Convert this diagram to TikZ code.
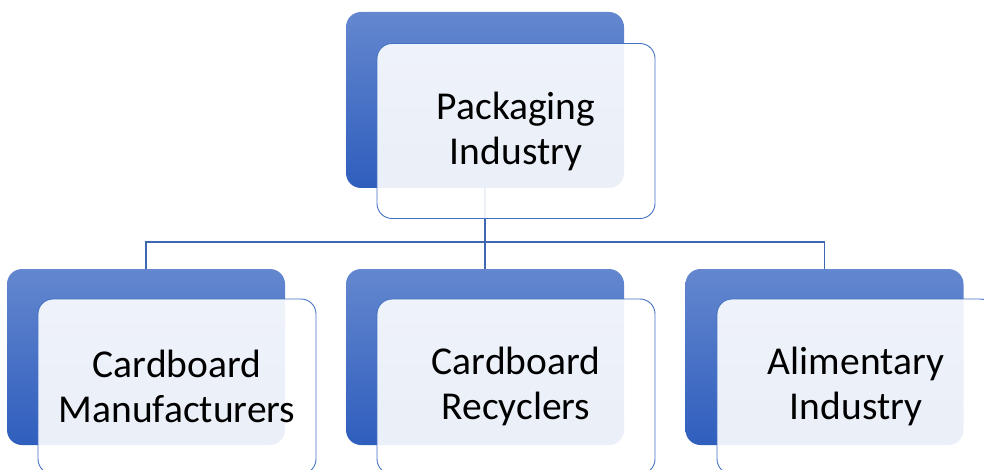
\documentclass[tikz,border=0pt]{standalone}
\usepackage{fontspec}
\setmainfont{Carlito}
\definecolor{bluetop}{HTML}{6487CF}
\definecolor{bluebot}{HTML}{2F5EBD}
\definecolor{edgeblue}{HTML}{4472C4}
\definecolor{lineblue}{HTML}{3F66B0}
\tikzset{
  bluebox/.style={rounded corners=15pt, top color=bluetop, bottom color=bluebot, draw=none,
    minimum width=278pt, minimum height=176pt, inner sep=0pt},
  lightbox/.style={rounded corners=15pt, fill=white, fill opacity=0.9, text opacity=1,
    draw=edgeblue, line width=0.9pt, minimum width=278pt, minimum height=175pt,
    inner sep=0pt, align=center, text=black, font=\fontsize{39.5}{45}\selectfont},
  conn/.style={draw=lineblue, line width=1.3pt}
}
\begin{document}
\begin{tikzpicture}[x=1pt,y=-1pt]
\useasboundingbox (0,0) rectangle (984,470);
\clip (0,0) rectangle (984,470);
\node[bluebox] (top) at (485,100) {};
\node[bluebox] (b1) at (146,357) {};
\node[bluebox] (b2) at (485,357) {};
\node[bluebox] (b3) at (824.5,357) {};
\coordinate (j) at (485,242);
\draw[conn] (top.south) -- (j);
\draw[conn] (j) -| (b1.north);
\draw[conn] (j) -- (b2.north);
\draw[conn] (j) -| (b3.north);
\node[lightbox] (ltop) at (516,131) {Packaging\\Industry};
\node[lightbox] (l1) at (177,386.5) {Cardboard\\Manufacturers};
\node[lightbox] (l2) at (516,386.5) {Cardboard\\Recyclers};
\node[lightbox] (l3) at (856,386.5) {Alimentary\\Industry};
\end{tikzpicture}
\end{document}
